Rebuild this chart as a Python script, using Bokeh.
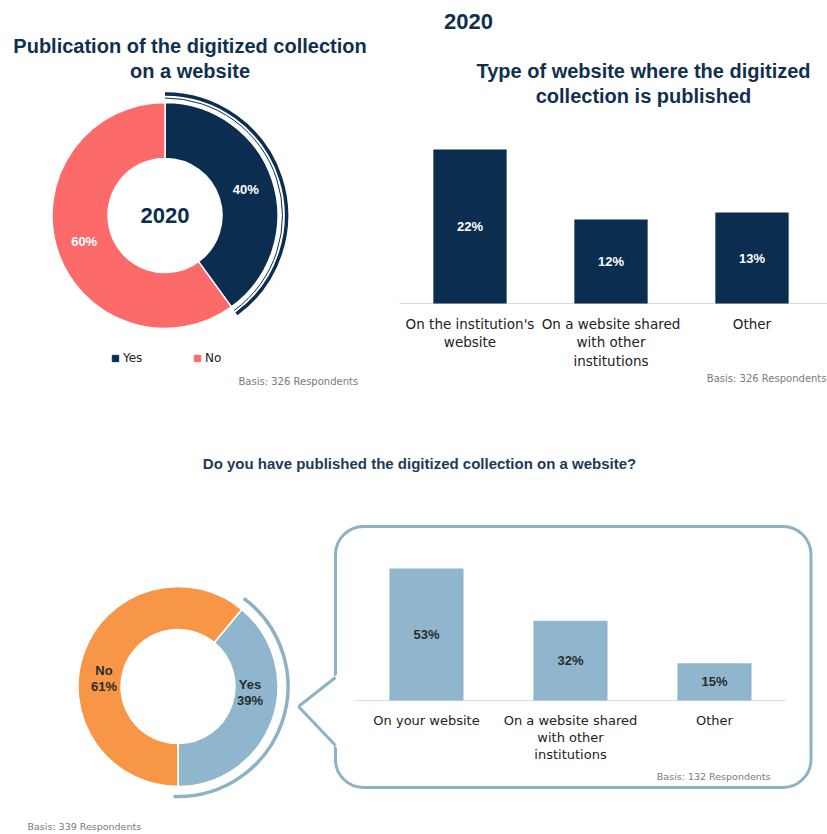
import math
from bokeh.plotting import figure
from bokeh.models import (Range1d, Label, BoxAnnotation, PolyAnnotation, Arrow,
                          Legend, LegendItem, ColumnDataSource)
from bokeh.layouts import column, row
from bokeh.embed import file_html
from bokeh.resources import INLINE
from bokeh.core.properties import value

# ---------------- data ----------------
main_year = "2020"
pub_title = ["Publication of the digitized collection", "on a website"]
pub_labels = ["Yes", "No"]
pub_values = [40, 60]
pub_basis = "Basis: 326 Respondents"

type_title = ["Type of website where the digitized", "collection is published"]
type_categories = ["On the institution's\nwebsite",
                   "On a website shared\nwith other\ninstitutions",
                   "Other"]
type_values = [22, 12, 13]
type_basis = "Basis: 326 Respondents"

q_title = "Do you have published the digitized collection on a website?"
pub2_labels = ["Yes", "No"]
pub2_values = [39, 61]
pub2_basis = "Basis: 339 Respondents"

type2_categories = ["On your website",
                    "On a website shared\nwith other\ninstitutions",
                    "Other"]
type2_values = [53, 32, 15]
type2_basis = "Basis: 132 Respondents"

# ---------------- style ----------------
NAVY = "#0b2d4f"
TITLE = "#11304f"
SALMON = "#fd6a6a"
ORANGE = "#f79646"
LBLUE = "#8fb6cd"
ARC2 = "#8eb1c6"
GRAY = "#7a7a7a"
DARK = "#222222"
BOLD_NAME = "Liberation Sans"
BODY_NAME = "DejaVu Sans"
BOLDF = value(BOLD_NAME)
BODYF = value(BODY_NAME)


def blank(w, h, xr, yr):
    p = figure(width=w, height=h, x_range=Range1d(*xr), y_range=Range1d(*yr),
               output_backend="svg", toolbar_location=None, title=None,
               x_axis_location=None, y_axis_location=None, min_border=0,
               outline_line_color=None, background_fill_color="white",
               border_fill_color="white")
    p.grid.visible = False
    return p


def lab(p, text, x, y, size, color, bold=False, align="center", font=None):
    p.add_layout(Label(x=x, y=y, x_units="screen", y_units="screen", text=text,
                       text_font=font or (BOLD_NAME if bold else BODY_NAME),
                       text_font_size=f"{size}px",
                       text_font_style="bold" if bold else "normal",
                       text_color=color, text_align=align, text_baseline="middle"))


# ---------------- top-left donut ----------------
W1, H1 = 390, 400
p1 = blank(W1, H1, (-164.5, 225.5), (-185, 215))
starts, ends, cum = [], [], 0
for v in pub_values:
    starts.append(math.radians(90 - cum * 3.6))
    cum += v
    ends.append(math.radians(90 - cum * 3.6))
src1 = ColumnDataSource(dict(start=starts, end=ends, color=[NAVY, SALMON]))
p1.annular_wedge(x=0, y=0, inner_radius=57, outer_radius=113, start_angle="start",
                 end_angle="end", direction="clock", fill_color="color",
                 line_color="white", line_width=1.5, source=src1)
p1.arc(x=0, y=0, radius=121.5, start_angle=ends[0], end_angle=starts[0],
       line_color=NAVY, line_width=3.5)
p1.arc(x=0, y=0, radius=117.5, start_angle=ends[0], end_angle=starts[0],
       line_color=NAVY, line_width=1)
mids = [(s + e) / 2 for s, e in zip(starts, ends)]
p1.text(x=[85 * math.cos(m) for m in mids], y=[85 * math.sin(m) for m in mids],
        text=[f"{v}%" for v in pub_values], text_color="white", text_font=BOLDF,
        text_font_style="bold", text_font_size="13px", text_align="center",
        text_baseline="middle")
p1.text(x=[0], y=[0], text=[main_year], text_color=NAVY, text_font=BOLDF,
        text_font_style="bold", text_font_size="22px", text_align="center",
        text_baseline="middle")
for i, t in enumerate(pub_title):
    lab(p1, t, 189.5, H1 - 45 - 25 * i, 20, TITLE, bold=True)
# off-canvas dummy points only feed the legend swatches
r_yes = p1.scatter(x=[-5000], y=[-5000], marker="square", size=7, color=NAVY)
r_no = p1.scatter(x=[-5000], y=[-5000], marker="square", size=7, color=SALMON)
leg = Legend(items=[LegendItem(label=pub_labels[0], renderers=[r_yes]),
                    LegendItem(label=pub_labels[1], renderers=[r_no])],
             orientation="horizontal", location=(107, 34), glyph_width=16,
             glyph_height=16, label_standoff=0, spacing=46, padding=0, margin=0,
             label_text_font=BODY_NAME, label_text_font_size="12px",
             label_text_color=DARK, border_line_color=None,
             background_fill_alpha=0)
p1.add_layout(leg, "center")
lab(p1, pub_basis, 238, 19, 10, GRAY, align="left")

# ---------------- top-right bars ----------------
W2, H2 = 437, 400
step2, ppu2, base2 = 141.0, 7.0, 97.0
x0_2 = -79.5 / step2
p2 = blank(W2, H2, (x0_2, x0_2 + W2 / step2), (-base2 / ppu2, (H2 - base2) / ppu2))
xs2 = list(range(len(type_values)))
p2.segment(x0=[-0.5], y0=[0], x1=[x0_2 + W2 / step2], y1=[0], line_color="#d9d9d9",
           line_width=1)
p2.vbar(x=xs2, top=type_values, width=0.52, bottom=0, fill_color=NAVY, line_color=None)
p2.text(x=xs2, y=[v / 2 for v in type_values], text=[f"{v}%" for v in type_values],
        text_color="white", text_font=BOLDF, text_font_style="bold",
        text_font_size="13px", text_align="center", text_baseline="middle")
p2.text(x=xs2, y=[0] * 3, text=type_categories, y_offset=12, text_color=DARK,
        text_font=BODYF, text_font_size="13.5px", text_align="center",
        text_baseline="top", text_line_height=1.18)
lab(p2, main_year, 78, H2 - 21, 22, TITLE, bold=True)
for i, t in enumerate(type_title):
    lab(p2, t, 253, H2 - 70 - 25 * i, 20, TITLE, bold=True)
lab(p2, type_basis, 436, 22, 10, GRAY, align="right")

# ---------------- middle strip (question) ----------------
WS, HS = 827, 90
ps = blank(WS, HS, (0, 1), (0, 1))
lab(ps, q_title, 419, 27, 15, "#1d3a58", bold=True)

# ---------------- bottom-left donut ----------------
W3, H3 = 295, 344
p3 = blank(W3, H3, (-177.5, 117.5), (-148, 196))
starts3, ends3, cum = [], [], 0
for v in pub2_values:
    starts3.append(math.radians(-90 + cum * 3.6))
    cum += v
    ends3.append(math.radians(-90 + cum * 3.6))
src3 = ColumnDataSource(dict(start=starts3, end=ends3, color=[LBLUE, ORANGE]))
p3.annular_wedge(x=0, y=0, inner_radius=57, outer_radius=100, start_angle="start",
                 end_angle="end", direction="anticlock", fill_color="color",
                 line_color="white", line_width=1.5, source=src3)
p3.arc(x=0, y=0, radius=110, start_angle=starts3[0] - 0.04, end_angle=ends3[0] + 0.05,
       line_color=ARC2, line_width=3.5)
p3.text(x=[72, -74], y=[-6, 8],
        text=[f"{l}\n{v}%" for l, v in zip(pub2_labels, pub2_values)],
        text_color="#2b2b2b", text_font=BOLDF, text_font_style="bold",
        text_font_size="13px", text_align="center", text_baseline="middle",
        text_line_height=1.07)
lab(p3, pub2_basis, 27, 8, 9.5, GRAY, align="left")

# ---------------- bottom-right bars in callout ----------------
W4, H4 = 532, 344
step4, ppu4, base4 = 144.0, 2.49, 134.0
x0_4 = -131.0 / step4
p4 = blank(W4, H4, (x0_4, x0_4 + W4 / step4), (-base4 / ppu4, (H4 - base4) / ppu4))
p4.add_layout(BoxAnnotation(left=40, right=515.5, bottom=47, top=308,
                            left_units="screen", right_units="screen",
                            top_units="screen", bottom_units="screen",
                            fill_alpha=0, line_color=ARC2, line_alpha=1,
                            line_width=3, border_radius=28))
p4.add_layout(PolyAnnotation(xs=[3, 44, 44], ys=[128, 162, 84], xs_units="screen",
                             ys_units="screen", fill_color="white", fill_alpha=1,
                             line_alpha=0))
for ye in (157, 89):
    p4.add_layout(Arrow(x_start=3, y_start=128, x_end=40, y_end=ye,
                        start_units="screen", end_units="screen", end=None,
                        line_color=ARC2, line_width=3))
xs4 = list(range(len(type2_values)))
p4.segment(x0=[-0.5], y0=[0], x1=[len(type2_values) - 0.5], y1=[0],
           line_color="#dcdcdc", line_width=1)
p4.vbar(x=xs4, top=type2_values, width=0.514, bottom=0, fill_color=LBLUE,
        line_color=None)
p4.text(x=xs4, y=[v / 2 for v in type2_values], text=[f"{v}%" for v in type2_values],
        text_color="#2b2b2b", text_font=BOLDF, text_font_style="bold",
        text_font_size="13px", text_align="center", text_baseline="middle")
p4.text(x=xs4, y=[0] * 3, text=type2_categories, y_offset=12, text_color=DARK,
        text_font=BODYF, text_font_size="13px", text_align="center",
        text_baseline="top", text_line_height=1.16)
lab(p4, type2_basis, 475, 58, 9.5, GRAY, align="right")

layout = column(row(p1, p2), ps, row(p3, p4))
open("out.html", "w").write(file_html(layout, INLINE))
